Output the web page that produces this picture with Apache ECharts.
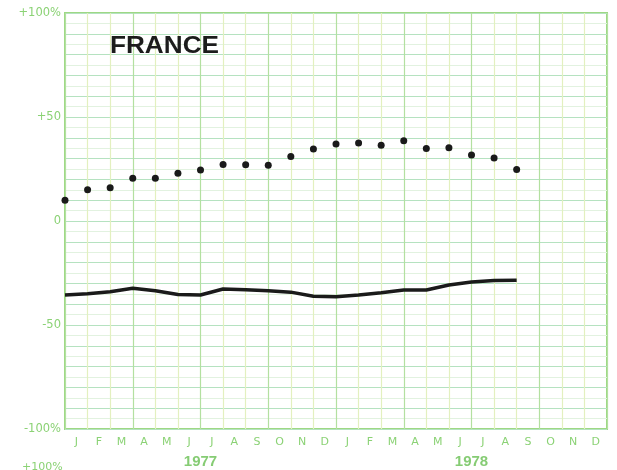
<!DOCTYPE html>
<html>
<head>
<meta charset="utf-8">
<script src="https://cdn.jsdelivr.net/npm/echarts@6/dist/echarts.min.js"></script>
<style>
  html, body { margin: 0; padding: 0; background: #fff; }
  #chart { width: 617px; height: 470px; }
</style>
</head>
<body>
<div id="chart"></div>
<script>
  // month labels (two years) and year labels
  var months = ['J','F','M','A','M','J','J','A','S','O','N','D','J','F','M','A','M','J','J','A','S','O','N','D'];
  var years = ['1977', '1978'];
  // dotted series, one value per month boundary starting Jan 1977
  var dotValues = [10, 15, 16, 20.5, 20.5, 23, 24.5, 27.2, 27.1, 26.8, 31, 34.6, 37, 37.5, 36.4, 38.6, 34.8, 35.2, 31.7, 30.3, 24.8];
  // solid line series
  var lineValues = [-35.6, -35, -34, -32.3, -33.5, -35.3, -35.6, -32.7, -33, -33.5, -34.2, -36.2, -36.4, -35.6, -34.5, -33.2, -33.2, -30.8, -29.3, -28.6, -28.5];
  var yLabels = {'100': '+100%', '50': '+50', '0': '0', '-50': '-50', '-100': '-100%'};

  var green = '#8bd275';
  var boundaries = [];
  for (var i = 0; i <= months.length; i++) boundaries.push(String(i));

  var myChart = echarts.init(document.getElementById('chart'));
  var option = {
    animation: false,
    grid: {
      left: 65, right: 10, top: 13, bottom: 41,
      show: true, borderColor: '#9ed884', borderWidth: 2, backgroundColor: 'transparent'
    },
    xAxis: [
      {
        type: 'category',
        data: boundaries,
        boundaryGap: false,
        axisLine: { show: false },
        axisTick: { show: false },
        axisLabel: { show: false },
        splitLine: {
          show: true,
          lineStyle: { color: ['#b3e0a0', '#e3f0bf', '#e3f0bf'], width: 1.2 }
        }
      },
      {
        type: 'category',
        data: months,
        position: 'bottom',
        boundaryGap: true,
        axisLine: { show: false },
        axisTick: { show: false },
        splitLine: { show: false },
        axisLabel: {
          color: green, fontSize: 11, margin: 8,
          fontFamily: 'DejaVu Sans', interval: 0
        }
      },
      {
        type: 'category',
        data: years,
        position: 'bottom',
        offset: 17,
        boundaryGap: true,
        axisLine: { show: false },
        axisTick: { show: false },
        splitLine: { show: false },
        axisLabel: {
          color: '#86cc74', fontSize: 15, fontWeight: 'bold', margin: 8,
          fontFamily: 'Liberation Sans'
        }
      }
    ],
    yAxis: {
      type: 'value',
      min: -100,
      max: 100,
      interval: 10,
      axisLine: { show: false },
      axisTick: { show: false },
      axisLabel: {
        color: green, fontSize: 11.5, margin: 4, fontFamily: 'DejaVu Sans',
        formatter: function (v) { return yLabels[String(v)] || ''; }
      },
      splitLine: { show: true, lineStyle: { color: '#b5e2c0', width: 1.2 } },
      minorTick: { show: false, splitNumber: 2 },
      minorSplitLine: { show: true, lineStyle: { color: '#e2f2e0', width: 1 } }
    },
    graphic: [
      {
        type: 'text', left: 110, top: 34, z: 100,
        scaleX: 1.09,
        style: {
          text: 'FRANCE',
          font: 'bold 24px "Liberation Sans", Arial, sans-serif',
          fill: '#1c1c1c'
        }
      },
      {
        type: 'text', left: 22, top: 462, z: 100,
        style: { text: '+100%', font: '11px "DejaVu Sans"', fill: green }
      }
    ],
    series: [
      {
        type: 'line',
        xAxisIndex: 0,
        data: lineValues,
        symbol: 'none',
        lineStyle: { color: '#1a1a1a', width: 3.5 },
        z: 3
      },
      {
        type: 'scatter',
        xAxisIndex: 0,
        data: dotValues,
        symbolSize: 7,
        itemStyle: { color: '#1a1a1a', opacity: 1 },
        z: 4
      }
    ]
  };
  myChart.setOption(option);
</script>
</body>
</html>
